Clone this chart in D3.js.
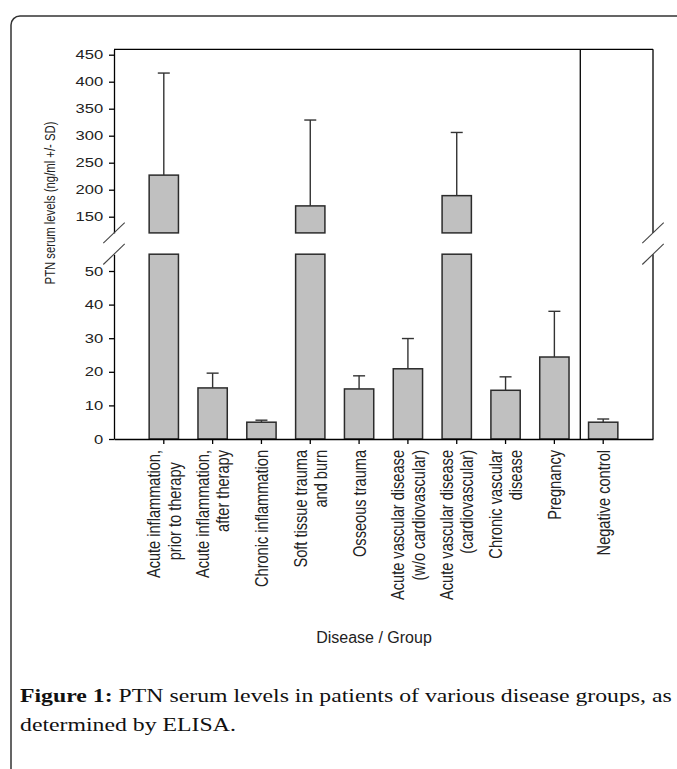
<!DOCTYPE html>
<html>
<head>
<meta charset="utf-8">
<script src="https://cdn.jsdelivr.net/npm/d3@7"></script>
<style>
  body { margin: 0; background: #fff; }
  svg { display: block; }
  .tick text { font-family: "Liberation Sans", Arial, sans-serif; }
</style>
</head>
<body>
<svg id="chart" width="677" height="769"></svg>
<script>
// disease groups, one entry per bar (lines of the rotated label)
const groups = [
  ["Acute inflammation,", "prior to therapy   "],
  ["Acute inflammation,", "after therapy"],
  ["Chronic inflammation"],
  ["Soft tissue trauma", "and burn"],
  ["Osseous trauma"],
  ["Acute vascular disease", "(w/o cardiovascular)"],
  ["Acute vascular disease", "(cardiovascular)"],
  ["Chronic vascular", "disease"],
  ["Pregnancy"],
  ["Negative control"]
];
// mean PTN level (ng/ml) and SD
const means = [227, 15.2, 5.0, 170, 14.9, 20.9, 189, 14.5, 24.4, 5.0];
const sds = [189, 4.4, 0.6, 159, 3.9, 9.0, 117, 4.0, 13.6, 0.95];

// broken y axis: lower and upper segments
const lowerDomain = [0, 55];
const upperDomain = [120, 460];
const lowerTicks = [0, 10, 20, 30, 40, 50];
const upperTicks = [150, 200, 250, 300, 350, 400, 450];

const names = groups.map(g => g.join(" ").trim());

const svg = d3.select("#chart");
const plotLeft = 114, plotRight = 653, plotTop = 49.3, plotBottom = 439;

const x = d3.scaleBand().domain(names).range([plotLeft, plotRight])
  .paddingInner(0.4).paddingOuter(0.72);
const yLow = d3.scaleLinear().domain(lowerDomain).range([plotBottom, 254.2]);
const yUp = d3.scaleLinear().domain(upperDomain).range([232.9, plotTop]);

// outer rounded frame of the figure box
svg.append("rect")
  .attr("x", 11).attr("y", 16).attr("width", 720).attr("height", 800)
  .attr("rx", 9).attr("fill", "none").attr("stroke", "#333").attr("stroke-width", 1.5);

// bars
const bw = x.bandwidth();
const barStyle = sel => sel.attr("fill", "#c0c0c0").attr("stroke", "#2b2b2b").attr("stroke-width", 1.5);
means.forEach((m, i) => {
  const bx = x(names[i]);
  if (m > lowerDomain[1]) {
    svg.append("rect").attr("x", bx).attr("width", bw)
      .attr("y", yLow(lowerDomain[1])).attr("height", yLow(0) - yLow(lowerDomain[1]))
      .call(barStyle);
    svg.append("rect").attr("x", bx).attr("width", bw)
      .attr("y", yUp(m)).attr("height", yUp(upperDomain[0]) - yUp(m))
      .call(barStyle);
  } else {
    svg.append("rect").attr("x", bx).attr("width", bw)
      .attr("y", yLow(m)).attr("height", yLow(0) - yLow(m))
      .call(barStyle);
  }
});

// error bars (upper side only)
means.forEach((m, i) => {
  const cx = x(names[i]) + bw / 2;
  const hi = m + sds[i];
  const y0 = m > lowerDomain[1] ? yUp(m) : yLow(m);
  const y1 = hi > lowerDomain[1] ? yUp(hi) : yLow(hi);
  svg.append("line").attr("x1", cx).attr("x2", cx).attr("y1", y0).attr("y2", y1)
    .attr("stroke", "#333").attr("stroke-width", 1.4);
  svg.append("line").attr("x1", cx - 6).attr("x2", cx + 6).attr("y1", y1).attr("y2", y1)
    .attr("stroke", "#333").attr("stroke-width", 1.4);
});

// y axes
function styleYAxis(g) {
  g.selectAll(".domain, .tick line").attr("stroke", "#000").attr("stroke-width", 1.3);
  g.selectAll(".tick text")
    .attr("x", -7.8).attr("dy", null)
    .attr("dominant-baseline", "central")
    .attr("transform", "scale(1.38,1)")
    .attr("font-size", 12).attr("fill", "#222");
}
svg.append("g").attr("transform", `translate(${plotLeft},0)`)
  .call(d3.axisLeft(yLow).tickValues(lowerTicks).tickSize(5).tickSizeOuter(0))
  .call(styleYAxis);
svg.append("g").attr("transform", `translate(${plotLeft},0)`)
  .call(d3.axisLeft(yUp).tickValues(upperTicks).tickSize(5).tickSizeOuter(0))
  .call(styleYAxis);

// x axis
const xAxis = svg.append("g").attr("transform", `translate(0,${plotBottom})`)
  .call(d3.axisBottom(x).tickSize(5).tickSizeOuter(0).tickFormat(""));
xAxis.selectAll(".domain, .tick line").attr("stroke", "#000").attr("stroke-width", 1.3);

// frame: top, right (broken), separator before negative control
const frame = svg.append("g").attr("stroke", "#000").attr("stroke-width", 1.3);
frame.append("line").attr("x1", plotLeft).attr("x2", plotRight).attr("y1", plotTop).attr("y2", plotTop);
frame.append("line").attr("x1", plotRight).attr("x2", plotRight).attr("y1", plotTop).attr("y2", yUp(upperDomain[0]));
frame.append("line").attr("x1", plotRight).attr("x2", plotRight).attr("y1", yLow(lowerDomain[1])).attr("y2", plotBottom);
const xSep = (x(names[8]) + bw + x(names[9])) / 2 + 1.5;
frame.append("line").attr("x1", xSep).attr("x2", xSep).attr("y1", plotTop).attr("y2", plotBottom);

// break marks
function breakMark(cx, cy) {
  svg.append("line")
    .attr("x1", cx - 10.7).attr("y1", cy + 10.3).attr("x2", cx + 10.7).attr("y2", cy - 10.3)
    .attr("stroke", "#444").attr("stroke-width", 1.1);
}
[plotLeft, plotRight].forEach(cx => {
  breakMark(cx, yUp(upperDomain[0]));
  breakMark(cx, yLow(lowerDomain[1]));
});

// rotated category labels
const lab = svg.append("g")
  .attr("font-family", "'Liberation Sans', Arial, sans-serif")
  .attr("font-size", 14.6).attr("fill", "#222");
groups.forEach((lines, i) => {
  const cx = x(names[i]) + bw / 2;
  const t = lab.append("text")
    .attr("transform", `translate(${cx},450) scale(1.2,1) rotate(-90)`)
    .attr("text-anchor", "end")
    .style("white-space", "pre");
  lines.forEach((s, j) => {
    t.append("tspan").attr("x", 0)
      .attr("y", (j - (lines.length - 1) / 2) * 17)
      .attr("dominant-baseline", "central")
      .text(s);
  });
});

// axis titles
svg.append("text")
  .attr("transform", "translate(50,203) scale(1.3,1) rotate(-90)")
  .attr("text-anchor", "middle").attr("dominant-baseline", "central")
  .attr("font-family", "'Liberation Sans', Arial, sans-serif").attr("font-size", 11.3)
  .attr("fill", "#222")
  .text("PTN serum levels (ng/ml +/- SD)");
svg.append("text")
  .attr("x", 374).attr("y", 643).attr("text-anchor", "middle")
  .attr("font-family", "'Liberation Sans', Arial, sans-serif").attr("font-size", 16)
  .attr("fill", "#222")
  .text("Disease / Group");

// caption
const cap = svg.append("g").attr("font-family", "'Liberation Serif', serif")
  .attr("font-size", 19).attr("fill", "#111");
const l1 = cap.append("text").attr("x", 0).attr("y", 702);
l1.append("tspan").attr("font-weight", "bold").text("Figure 1:");
l1.append("tspan").text(" PTN serum levels in patients of various disease groups, as");
cap.append("text").attr("x", 0).attr("y", 731).text("determined by ELISA.");
const k = 652 / l1.node().getComputedTextLength();
cap.attr("transform", `translate(20,0) scale(${k},1)`);
</script>
</body>
</html>
